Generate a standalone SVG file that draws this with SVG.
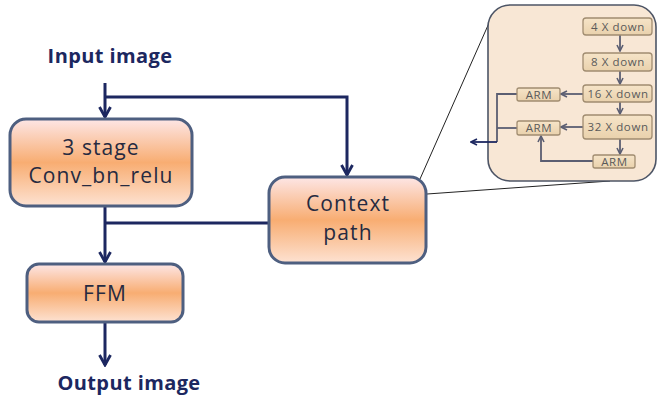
<svg xmlns="http://www.w3.org/2000/svg" width="658" height="398" viewBox="0 0 658 398">
  <defs>
    <linearGradient id="boxFill" x1="0" y1="0" x2="0" y2="1">
      <stop offset="0" stop-color="#fde6e6"/>
      <stop offset="0.5" stop-color="#f8ad72"/>
      <stop offset="1" stop-color="#fde2d2"/>
    </linearGradient>
    <linearGradient id="blockFill" x1="0" y1="0" x2="0" y2="1">
      <stop offset="0" stop-color="#f6e4c8"/>
      <stop offset="1" stop-color="#e9d1ac"/>
    </linearGradient>
    <marker id="navyHead" viewBox="0 0 14 14" refX="12" refY="7" markerWidth="14" markerHeight="14" markerUnits="userSpaceOnUse" orient="auto">
      <path d="M2,1.5 L12,7 L2,12.5" fill="none" stroke="#1c2760" stroke-width="2.8" stroke-linejoin="miter"/>
    </marker>
    <marker id="smallHead" viewBox="0 0 8 8" refX="7" refY="4" markerWidth="8" markerHeight="8" markerUnits="userSpaceOnUse" orient="auto">
      <path d="M1,1 L7,4 L1,7" fill="none" stroke="#5b5e72" stroke-width="1.6"/>
    </marker>
    <marker id="outHead" viewBox="0 0 8 8" refX="7" refY="4" markerWidth="8" markerHeight="8" markerUnits="userSpaceOnUse" orient="auto">
      <path d="M1,1 L7,4 L1,7" fill="none" stroke="#1c2760" stroke-width="1.6"/>
    </marker>
  </defs>
  <style>
    .box { fill: url(#boxFill); stroke: #4e5f80; stroke-width: 3; }
    .label { font-family: "Open Sans", "Liberation Sans", sans-serif; font-size: 21px; letter-spacing: 1.1px; fill: #262a40; text-anchor: middle; }
    .title { font-family: "Open Sans", "Liberation Sans", sans-serif; font-size: 20px; letter-spacing: 0.4px; font-weight: bold; fill: #1c2760; text-anchor: middle; }
    .wire { fill: none; stroke: #1c2760; stroke-width: 3; }
    .zoomline { fill: none; stroke: #222; stroke-width: 1; }
    .panel { fill: #f8e7d5; stroke: #4d5566; stroke-width: 1.6; }
    .block { fill: url(#blockFill); stroke: #a08c70; stroke-width: 1.3; }
    .btext { font-family: "Open Sans", "Liberation Sans", sans-serif; font-size: 11.5px; letter-spacing: 0.6px; fill: #5a5a5a; text-anchor: middle; }
    .thin { fill: none; stroke: #5b5e72; stroke-width: 1.8; }
  </style>

  <!-- headline texts -->
  <text id="input-label" class="title" x="110" y="63">Input image</text>
  <text id="output-label" class="title" x="129" y="390">Output image</text>

  <!-- main connectors -->
  <g id="connectors">
    <line class="wire" x1="105" y1="83" x2="105" y2="117" marker-end="url(#navyHead)"/>
    <polyline class="wire" points="105,97 347,97 347,175" marker-end="url(#navyHead)"/>
    <line class="wire" x1="105" y1="206" x2="105" y2="262" marker-end="url(#navyHead)"/>
    <line class="wire" x1="105" y1="223" x2="269" y2="223"/>
    <line class="wire" x1="105" y1="322" x2="105" y2="365" marker-end="url(#navyHead)"/>
    <!-- zoom-out guide lines to the detail panel -->
    <line class="zoomline" x1="420" y1="179" x2="493" y2="14"/>
    <line class="zoomline" x1="427" y1="194" x2="610" y2="181"/>
  </g>

  <g id="spatial-path">
    <rect class="box" x="10" y="119" width="182" height="87" rx="16"/>
    <text class="label" x="101" y="155">3 stage</text>
    <text class="label" x="101" y="183">Conv_bn_relu</text>
  </g>

  <g id="context-path">
    <rect class="box" x="269" y="177" width="157" height="86" rx="16"/>
    <text class="label" x="348" y="211">Context</text>
    <text class="label" x="348" y="240">path</text>
  </g>

  <g id="ffm">
    <rect class="box" x="27" y="264" width="156" height="58" rx="12"/>
    <text class="label" x="105" y="301">FFM</text>
  </g>

  <!-- detail panel of the context path -->
  <g id="detail-panel">
    <rect class="panel" x="488" y="5" width="168" height="176" rx="22"/>

    <g id="detail-connectors">
      <line class="thin" x1="620" y1="35" x2="620" y2="51" marker-end="url(#smallHead)"/>
      <line class="thin" x1="620" y1="71" x2="620" y2="84" marker-end="url(#smallHead)"/>
      <line class="thin" x1="620" y1="102" x2="620" y2="114" marker-end="url(#smallHead)"/>
      <line class="thin" x1="620" y1="139" x2="620" y2="154" marker-end="url(#smallHead)"/>
      <line class="thin" x1="583" y1="94" x2="561" y2="94" marker-end="url(#smallHead)"/>
      <line class="thin" x1="583" y1="127" x2="561" y2="127" marker-end="url(#smallHead)"/>
      <polyline class="thin" points="593,161 541,161 541,136" marker-end="url(#smallHead)"/>
      <polyline class="thin" points="517,94 497,94 497,142"/>
      <line class="thin" x1="517" y1="128" x2="497" y2="128"/>
      <line fill="none" stroke="#1c2760" stroke-width="1.8" x1="497" y1="142" x2="471" y2="142" marker-end="url(#outHead)"/>
    </g>

    <g id="down4">
      <rect class="block" x="583" y="18" width="69" height="17" rx="3"/>
      <text class="btext" x="618" y="30.5">4 X down</text>
    </g>
    <g id="down8">
      <rect class="block" x="583" y="53" width="69" height="18" rx="3"/>
      <text class="btext" x="618" y="66">8 X down</text>
    </g>
    <g id="down16">
      <rect class="block" x="583" y="85" width="69" height="17" rx="3"/>
      <text class="btext" x="618" y="97.5">16 X down</text>
    </g>
    <g id="down32">
      <rect class="block" x="583" y="115" width="69" height="24" rx="3"/>
      <text class="btext" x="618" y="131">32 X down</text>
    </g>
    <g id="arm16">
      <rect class="block" x="517" y="88" width="43" height="13" rx="2"/>
      <text class="btext" x="539" y="98.5">ARM</text>
    </g>
    <g id="arm32">
      <rect class="block" x="517" y="121" width="43" height="14" rx="2"/>
      <text class="btext" x="539" y="132">ARM</text>
    </g>
    <g id="arm-global">
      <rect class="block" x="593" y="155" width="42" height="13" rx="2"/>
      <text class="btext" x="614.5" y="165.5">ARM</text>
    </g>
  </g>
</svg>
